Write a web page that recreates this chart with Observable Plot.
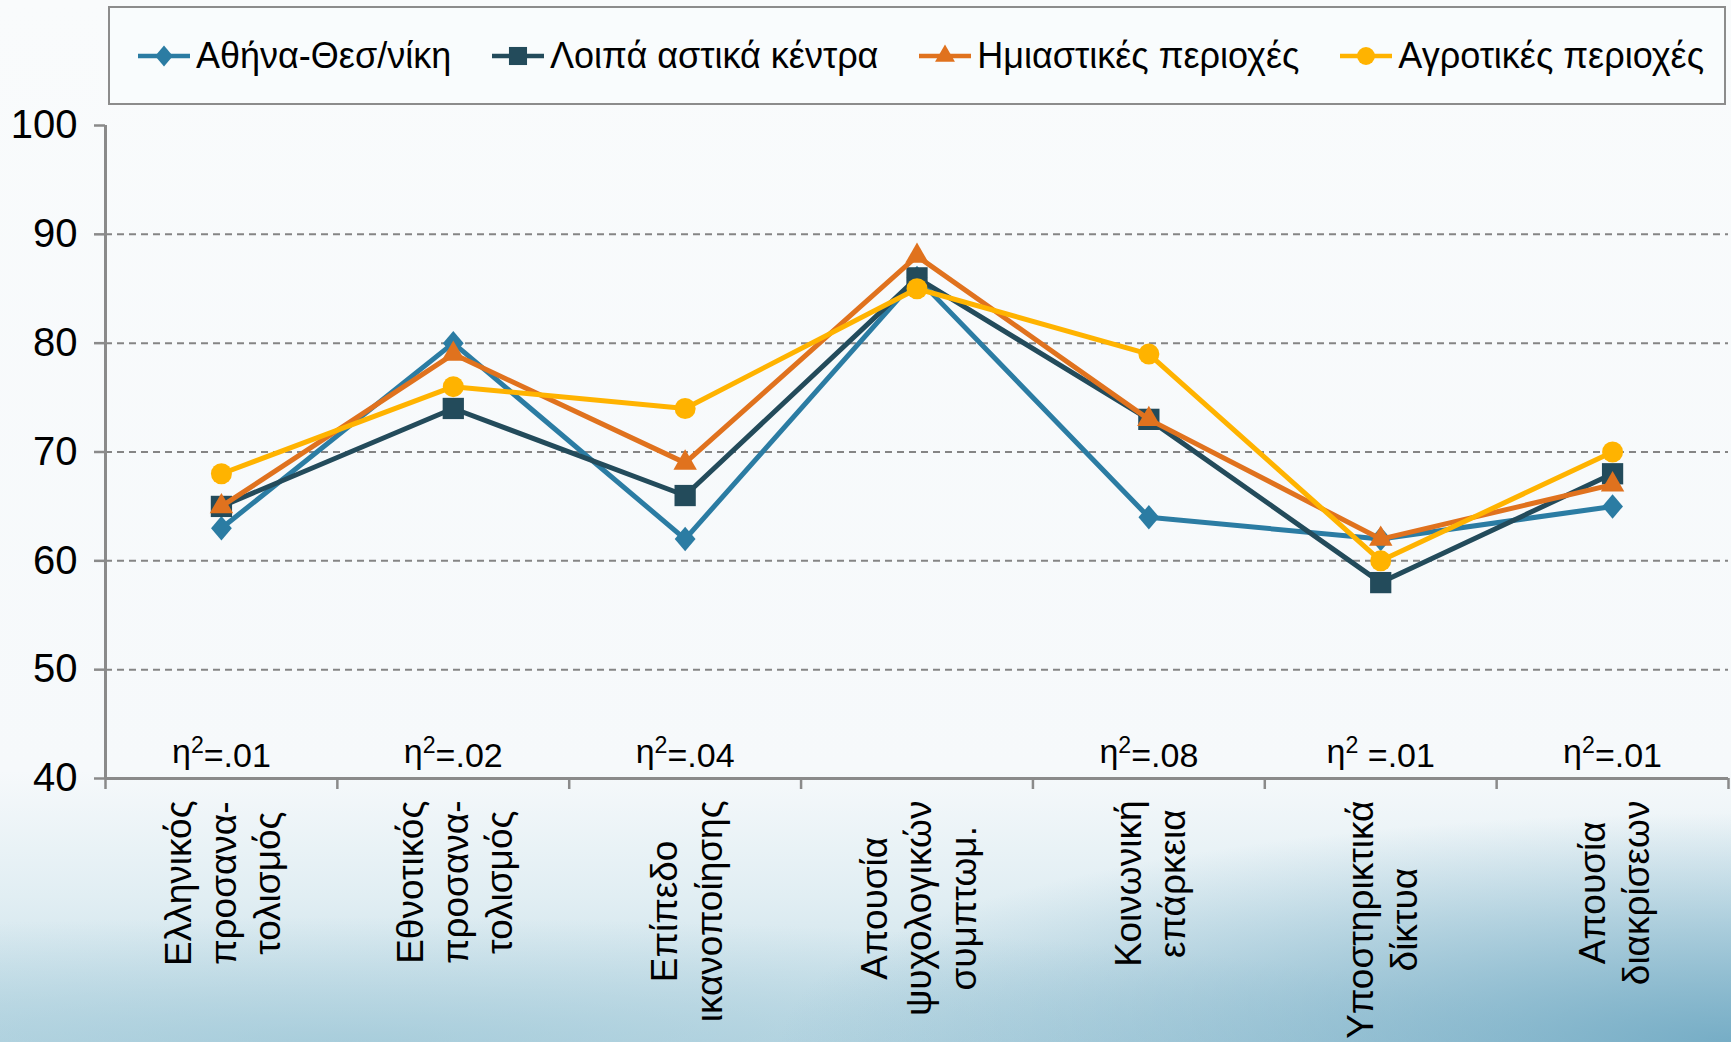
<!DOCTYPE html>
<html>
<head>
<meta charset="utf-8">
<script src="https://cdn.jsdelivr.net/npm/d3@7"></script>
<script src="https://cdn.jsdelivr.net/npm/@observablehq/plot@0.6"></script>
<style>
html, body { margin: 0; padding: 0; width: 1731px; height: 1042px; overflow: hidden; }
body {
  position: relative;
  font-family: "Liberation Sans", Arial, sans-serif;
  background:
    radial-gradient(ellipse 55% 22% at 100% 100%, rgba(105,165,192,0.85), rgba(105,165,192,0) 100%),
    radial-gradient(ellipse 70% 12% at 20% 100%, rgba(150,195,212,0.6), rgba(150,195,212,0) 100%),
    linear-gradient(to bottom, #f9fbfc 0%, #f6f9fb 74%, #e1eef3 86%, #c4dde7 100%);
}
#legend {
  position: absolute; left: 108px; top: 6px; width: 1618px; height: 99px;
  box-sizing: border-box; border: 2px solid #8c8c8c; background: #f9fcfd;
  display: flex; align-items: center; justify-content: space-between;
  padding: 0 20px 0 28px; font-size: 36px; color: #000;
}
.item { display: flex; align-items: center; white-space: nowrap; }
.item svg { margin-right: 6px; }
#chart { position: absolute; left: 0; top: 0; }
</style>
</head>
<body>
<div id="legend"></div>
<div id="chart"></div>
<script>
// ---- data ----
const categories = [
  "Ελληνικός\nπροσανα-\nτολισμός",
  "Εθνοτικός\nπροσανα-\nτολισμός",
  "Επίπεδο\nικανοποίησης",
  "Απουσία\nψυχολογικών\nσυμπτωμ.",
  "Κοινωνική\nεπάρκεια",
  "Υποστηρικτικά\nδίκτυα",
  "Απουσία\nδιακρίσεων"
];
const etaLabels = ["η²=.01", "η²=.02", "η²=.04", null, "η²=.08", "η² =.01", "η²=.01"];
const seriesNames = ["Αθήνα-Θεσ/νίκη", "Λοιπά αστικά κέντρα", "Ημιαστικές περιοχές", "Αγροτικές περιοχές"];
const athens    = [63, 80, 62, 86, 64, 62, 65];
const urban     = [65, 74, 66, 86, 73, 58, 68];
const semiurban = [65, 79, 69, 88, 73, 62, 67];
const rural     = [68, 76, 74, 85, 79, 60, 70];
const yTicks = [40, 50, 60, 70, 80, 90, 100];
const gridValues = [50, 60, 70, 80, 90];

// ---- styles ----
const seriesValues = [athens, urban, semiurban, rural];
const colors = ["#2b7ca3", "#234b5b", "#e0721e", "#ffb300"];
const excelDiamond = {
  draw(ctx, size) {
    const hh = Math.sqrt(size / 1.7), hw = 0.85 * hh;
    ctx.moveTo(0, -hh); ctx.lineTo(hw, 0); ctx.lineTo(0, hh); ctx.lineTo(-hw, 0); ctx.closePath();
  }
};
const symbolTypes = [excelDiamond, d3.symbolSquare, d3.symbolTriangle, d3.symbolCircle];
const radii = [9, 12, 8.7, 10.5];

// ---- legend ----
const legend = document.getElementById("legend");
seriesNames.forEach((name, k) => {
  const item = document.createElement("div");
  item.className = "item";
  const w = 52, h = 34;
  const path = d3.symbol(symbolTypes[k], Math.PI * (radii[k] * 0.85) ** 2)();
  item.innerHTML =
    `<svg width="${w}" height="${h}"><line x1="0" x2="${w}" y1="${h/2}" y2="${h/2}" stroke="${colors[k]}" stroke-width="4.5"/>` +
    `<path d="${path}" transform="translate(${w/2},${h/2})" fill="${colors[k]}"/></svg><span>${name}</span>`;
  legend.appendChild(item);
});

// ---- chart ----
const xi = (d, i) => i + 0.5;
const marks = [
  Plot.ruleY(gridValues, {stroke: "#858585", strokeWidth: 2, strokeDasharray: "7,5"}),
  Plot.ruleX([0], {stroke: "#8a8a8a", strokeWidth: 3}),
  Plot.ruleY([40], {stroke: "#8a8a8a", strokeWidth: 3}),
  Plot.axisY({ticks: yTicks, tickSize: 11, tickPadding: 17, stroke: "#8a8a8a", strokeWidth: 2.5, fill: "#000", fontSize: 40}),
  Plot.axisX({ticks: d3.range(0, categories.length + 1), tickSize: 11, tickFormat: () => "", stroke: "#8a8a8a", strokeWidth: 2.5}),
  Plot.text(etaLabels, {x: xi, text: d => d, frameAnchor: "bottom", lineAnchor: "bottom", dy: -16, fontSize: 34, fill: "#000"}),
  Plot.text(categories, {x: xi, text: d => d, frameAnchor: "bottom", rotate: -90, textAnchor: "end", lineAnchor: "middle", dy: 22, fontSize: 37, lineHeight: 1.2, fill: "#000"})
];
seriesValues.forEach((vals, k) => {
  marks.push(Plot.line(vals, {x: xi, y: d => d, stroke: colors[k], strokeWidth: 5}));
  marks.push(Plot.dot(vals, {x: xi, y: d => d, symbol: symbolTypes[k], r: radii[k], fill: colors[k], stroke: "none"}));
});

const svg = Plot.plot({
  width: 1731,
  height: 1042,
  marginTop: 125,
  marginBottom: 264,
  marginLeft: 105,
  marginRight: 3,
  x: {type: "linear", domain: [0, categories.length], axis: null},
  y: {domain: [40, 100], axis: null},
  style: {background: "transparent", fontFamily: "'Liberation Sans', Arial, sans-serif", fontSize: "36px", color: "#000", overflow: "hidden"},
  marks
});
document.getElementById("chart").appendChild(svg);

const NS = "http://www.w3.org/2000/svg";
// centre the lines of each rotated category label, keeping the block against the axis
const catFlat = categories.map(c => c.replace(/\n/g, ""));
svg.querySelectorAll("text").forEach(t => {
  if (catFlat.includes(t.textContent)) {
    const W = t.getBBox().width;
    t.setAttribute("text-anchor", "middle");
    const spans = t.querySelectorAll("tspan");
    if (spans.length) spans.forEach(s => s.setAttribute("x", -W / 2));
    else t.setAttribute("x", -W / 2);
  } else if (t.textContent.includes("²") && !t.querySelector("tspan")) {
    // render the squared sign as a true superscript
    const [pre, post] = t.textContent.split("²");
    t.textContent = pre;
    const sup = document.createElementNS(NS, "tspan");
    sup.setAttribute("dy", "-0.42em"); sup.setAttribute("font-size", "0.68em"); sup.textContent = "2";
    const rest = document.createElementNS(NS, "tspan");
    rest.setAttribute("dy", "0.42em"); rest.textContent = post;
    t.appendChild(sup); t.appendChild(rest);
  }
});
</script>
</body>
</html>
